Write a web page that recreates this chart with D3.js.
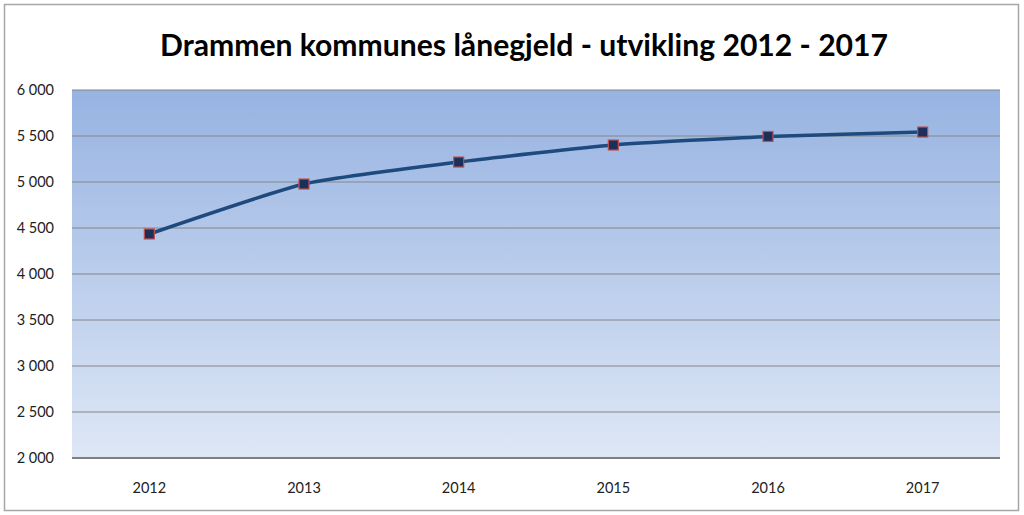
<!DOCTYPE html>
<html><head><meta charset="utf-8">
<script src="https://cdn.jsdelivr.net/npm/d3@7"></script>
<style>body{margin:0;background:#fff}svg{display:block}</style>
</head><body>
<script>
const title = "Drammen kommunes lånegjeld - utvikling 2012 - 2017";
const years = ["2012","2013","2014","2015","2016","2017"];
const debt = [4435, 4978, 5217, 5402, 5495, 5543];
const yTicks = [2000,2500,3000,3500,4000,4500,5000,5500,6000];

const W=1024,H=515;
const svg=d3.select("body").append("svg").attr("width",W).attr("height",H);
const defs=svg.append("defs");
const g=defs.append("linearGradient").attr("id","bg").attr("x1",0).attr("y1",0).attr("x2",0).attr("y2",1);
g.append("stop").attr("offset","0%").attr("stop-color","#97b3e2");
g.append("stop").attr("offset","100%").attr("stop-color","#dee7f5");

svg.append("rect").attr("x",4.5).attr("y",4.5).attr("width",1014).attr("height",506)
  .attr("fill","#fff").attr("stroke","#a6a6a6").attr("stroke-width",1.5);

const m={l:72,r:1000,t:90,b:458};
const x=d3.scaleBand().domain(years).range([m.l,m.r]);
const y=d3.scaleLinear().domain([2000,6000]).range([m.b,m.t]);

svg.append("rect").attr("x",m.l).attr("y",m.t).attr("width",m.r-m.l).attr("height",m.b-m.t).attr("fill","url(#bg)");

svg.append("g").selectAll("line").data(yTicks).join("line")
  .attr("x1",m.l).attr("x2",m.r).attr("y1",d=>y(d)).attr("y2",d=>y(d))
  .attr("stroke",d=>d===2000?"#7f7f7f":"#868686").attr("stroke-width",d=>d===2000?2:1.2);

const fmt=d=>d3.format(",")(d).replace(",", " ");
svg.append("g").selectAll("text").data(yTicks).join("text")
  .attr("x",54).attr("y",d=>y(d)).attr("dy","0.35em").attr("text-anchor","end")
  .attr("font-family","Lato, 'Open Sans', sans-serif").attr("font-size",14.5).attr("fill","#222")
  .text(fmt);

svg.append("g").selectAll("text").data(years).join("text")
  .attr("x",d=>x(d)+x.bandwidth()/2).attr("y",488).attr("dy","0.35em").attr("text-anchor","middle")
  .attr("font-family","Lato, 'Open Sans', sans-serif").attr("font-size",14.5).attr("fill","#222")
  .text(d=>d);

const pts=years.map((yr,i)=>[x(yr)+x.bandwidth()/2,y(debt[i])]);
svg.append("path").attr("d",d3.line().curve(d3.curveCardinal.tension(0.5))(pts))
  .attr("fill","none").attr("stroke","#1f4a7d").attr("stroke-width",3.5);

svg.append("g").selectAll("rect").data(pts).join("rect")
  .attr("x",d=>d[0]-5).attr("y",d=>d[1]-5).attr("width",10).attr("height",10)
  .attr("fill","#1c2f5c").attr("stroke","#c0504d").attr("stroke-width",1.2);

svg.append("text").attr("x",524).attr("y",45).attr("dy","0.35em").attr("text-anchor","middle")
  .attr("font-family","Lato, 'Open Sans', sans-serif").attr("font-weight","bold").attr("font-size",30)
  .attr("fill","#000").attr("textLength",728).attr("lengthAdjust","spacingAndGlyphs").text(title);
</script>
</body></html>
